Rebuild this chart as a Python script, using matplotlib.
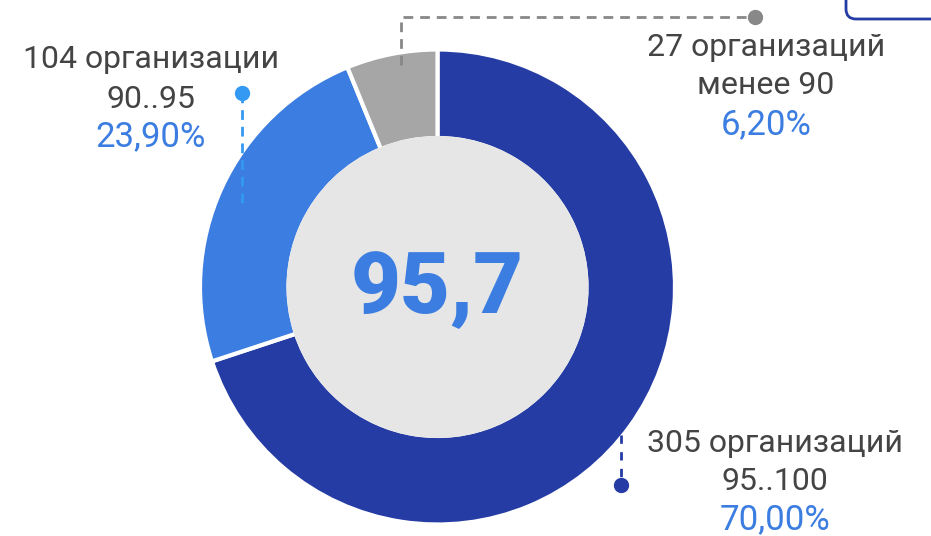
import matplotlib
matplotlib.use("Agg")
import matplotlib.pyplot as plt
from matplotlib.patches import Circle, FancyBboxPatch

# Data
labels_count = ["305 организаций", "104 организации", "27 организаций"]
labels_range = ["95..100", "90..95", "менее 90"]
shares = [70.00, 23.90, 6.20]
share_text = ["70,00%", "23,90%", "6,20%"]
colors = ["#253ca4", "#3b7de0", "#a6a6a6"]
center_value = "95,7"

W, H = 931, 536
fig = plt.figure(figsize=(W / 100, H / 100), dpi=100)
ax = fig.add_axes([0, 0, 1, 1])

def Y(py):
    return H - py

cx, cy = 437.5, Y(287)
R_out, R_in = 237.5, 149

ax.pie(shares, colors=colors, startangle=90, counterclock=False,
       center=(cx, cy), radius=R_out,
       wedgeprops=dict(width=R_out - R_in, edgecolor="white", linewidth=3))
ax.add_patch(Circle((cx, cy), 151, facecolor="#e6e6e6", edgecolor="none", zorder=3))
ax.set_xlim(0, W)
ax.set_ylim(0, H)
ax.set_aspect("auto")
ax.axis("off")

FONT = ["Roboto", "DejaVu Sans"]
gray = "#444444"
blue_txt = "#3b7de0"
fs = 23
fs_pct = 25

ax.text(cx, Y(290), center_value, ha="center", va="center", fontsize=62,
        fontweight="black", color="#3b7de0", family=FONT, zorder=5)

# Leader lines
# dark blue
ax.plot([621, 621], [Y(435), Y(485)], ls=(0, (3, 3)), color="#253ca4", lw=2, zorder=4)
ax.plot([621], [Y(485)], "o", ms=10, color="#253ca4", zorder=5)
# light blue
ax.plot([242, 242], [Y(93), Y(203)], ls=(0, (3.5, 2.5)), color="#3399f3", lw=2, zorder=4)
ax.plot([242], [Y(93)], "o", ms=10, color="#3399f3", zorder=5)
# grey
ax.plot([401, 401, 755], [Y(65), Y(17), Y(17)], ls=(0, (3.5, 2.5)), color="#888888", lw=2, zorder=4)
ax.plot([755], [Y(17)], "o", ms=10, color="#888888", zorder=5)

# Labels
pos = [(775, [443, 482, 520]), (151, [60, 99, 137]), (766, [47, 86, 125])]
for i, (x, ys) in enumerate(pos):
    ax.text(x, Y(ys[0]), labels_count[i], ha="center", va="center", fontsize=fs,
            color=gray, family=FONT)
    ax.text(x, Y(ys[1]), labels_range[i], ha="center", va="center", fontsize=fs,
            color=gray, family=FONT)
    ax.text(x, Y(ys[2]), share_text[i], ha="center", va="center", fontsize=fs_pct,
            color=blue_txt, family=FONT)

# partial rounded box at top right
ax.add_patch(FancyBboxPatch((846, Y(19)), 120, 60, boxstyle="round,pad=0,rounding_size=10",
                            facecolor="white", edgecolor="#253ca4", lw=2, clip_on=True))

fig.savefig("out.png", dpi=100)
